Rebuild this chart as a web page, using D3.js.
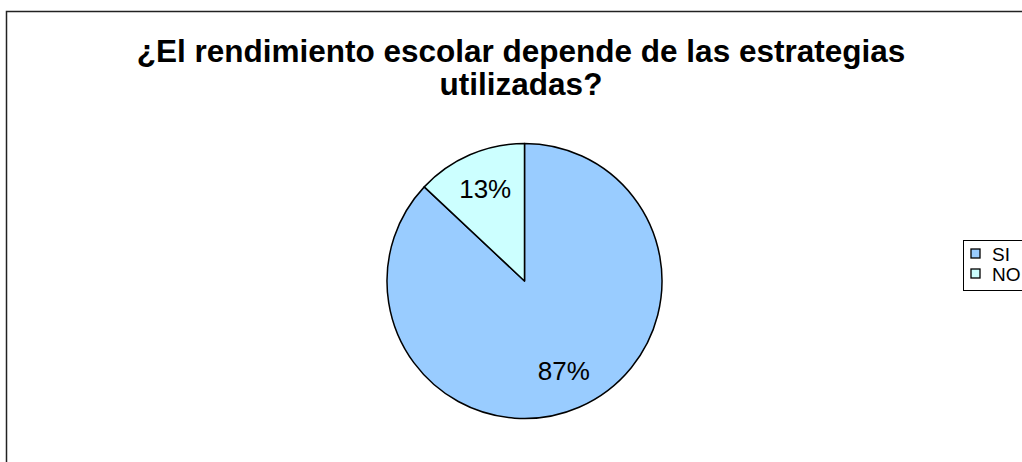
<!DOCTYPE html>
<html>
<head>
<meta charset="utf-8">
<script src="https://cdn.jsdelivr.net/npm/d3@7/dist/d3.min.js"></script>
<style>
  html, body { margin: 0; padding: 0; background: #fff; }
  svg { display: block; }
</style>
</head>
<body>
<svg id="chart" width="1022" height="462"></svg>
<script>
const titleLines = ["¿El rendimiento escolar depende de las estrategias", "utilizadas?"];
const categories = ["SI", "NO"];
const values = [87, 13];
const colors = ["#99CCFF", "#CCFFFF"];

const svg = d3.select("#chart");

// chart frame (extends past the right/bottom edge)
svg.append("rect")
  .attr("x", 6.5).attr("y", 11.5)
  .attr("width", 1100).attr("height", 500)
  .attr("fill", "#fff")
  .attr("stroke", "#222").attr("stroke-width", 1.5);

// title
const title = svg.append("text")
  .attr("text-anchor", "middle")
  .attr("font-family", "Arial, 'Liberation Sans', sans-serif")
  .attr("font-weight", "bold")
  .attr("font-size", 31.5)
  .attr("fill", "#000");
titleLines.forEach((t, i) => {
  title.append("tspan").attr("x", 521).attr("y", 62 + i * 33).text(t);
});

// pie
const cx = 524.5, cy = 281, R = 137.5;
const pie = d3.pie().sort(null).value(d => d.v);
const data = categories.map((c, i) => ({ c, v: values[i], col: colors[i] }));
const arcs = pie(data);
const arc = d3.arc().innerRadius(0).outerRadius(R);
const labelArc = d3.arc().innerRadius(R * 0.72).outerRadius(R * 0.72);
const total = d3.sum(values);

const g = svg.append("g").attr("transform", `translate(${cx},${cy})`);
g.selectAll("path.slice").data(arcs).join("path")
  .attr("class", "slice")
  .attr("d", arc)
  .attr("fill", d => d.data.col)
  .attr("stroke", "#000")
  .attr("stroke-width", 1.5)
  .attr("stroke-linejoin", "round");

g.selectAll("text.lbl").data(arcs).join("text")
  .attr("class", "lbl")
  .attr("transform", d => `translate(${labelArc.centroid(d)})`)
  .attr("text-anchor", "middle")
  .attr("dy", "0.3em")
  .attr("font-family", "Arial, 'Liberation Sans', sans-serif")
  .attr("font-size", 26)
  .attr("fill", "#000")
  .text(d => Math.round(d.data.v / total * 100) + "%");

// legend
const lg = svg.append("g").attr("transform", "translate(963.5,240.5)");
lg.append("rect")
  .attr("x", 0).attr("y", 0)
  .attr("width", 100).attr("height", 50)
  .attr("fill", "#fff")
  .attr("stroke", "#000").attr("stroke-width", 1);
const items = lg.selectAll("g.item").data(data).join("g")
  .attr("class", "item")
  .attr("transform", (d, i) => `translate(7.5,${8.5 + i * 20})`);
items.append("rect")
  .attr("width", 9).attr("height", 9)
  .attr("fill", d => d.col)
  .attr("stroke", "#000").attr("stroke-width", 1.3);
items.append("text")
  .attr("x", 21).attr("y", 11.5)
  .attr("font-family", "Arial, 'Liberation Sans', sans-serif")
  .attr("font-size", 19)
  .attr("fill", "#000")
  .text(d => d.c);
</script>
</body>
</html>
